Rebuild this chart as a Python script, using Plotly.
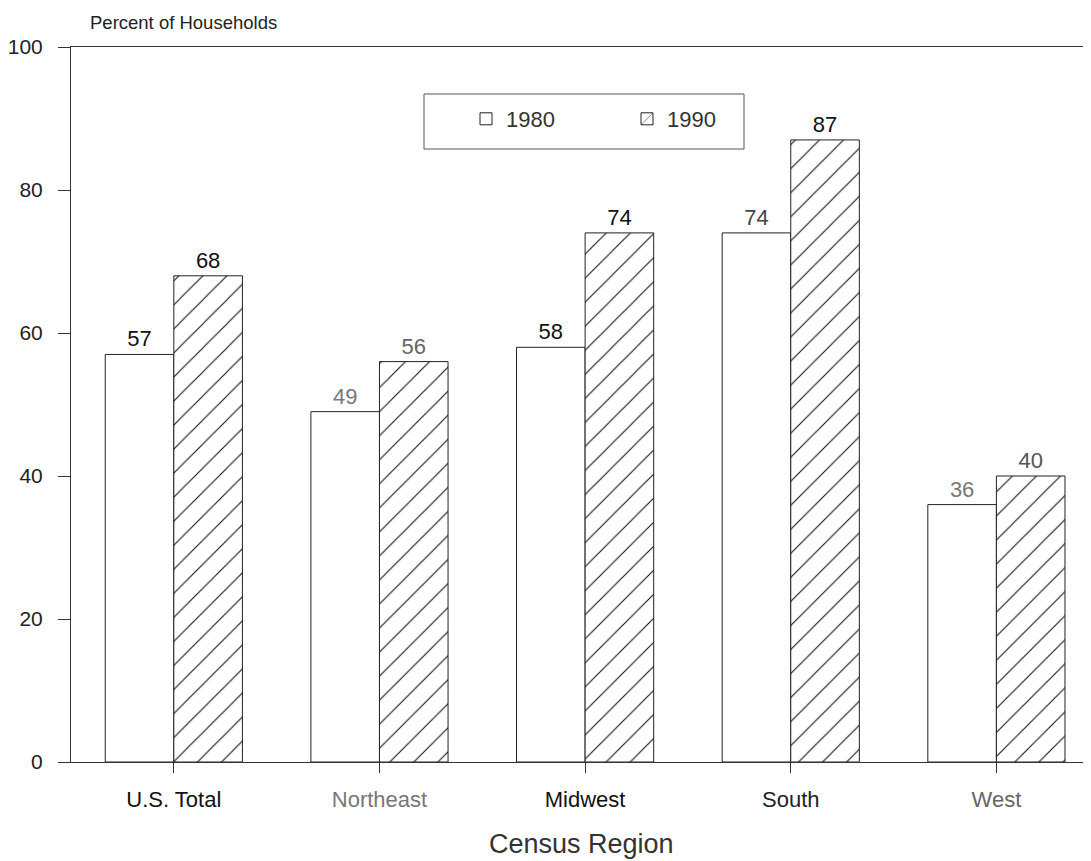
import plotly.graph_objects as go

regions = ["U.S. Total", "Northeast", "Midwest", "South", "West"]
v1980 = [57, 49, 58, 74, 36]
v1990 = [68, 56, 74, 87, 40]
y_ticks = [0, 20, 40, 60, 80, 100]

label_colors_1980 = ["#111", "#777", "#111", "#444", "#777"]
label_colors_1990 = ["#111", "#666", "#111", "#111", "#555"]
tick_colors = ["#111", "#777", "#111", "#222", "#666"]

FONT = "Liberation Sans, Arial, Helvetica, sans-serif"

# page body has an 8px margin; figure sized so the plot fills the window as in the reference
W, H = 1083, 853
L, T = 63, 39
PW, PH = 1020, 715

fig = go.Figure()
fig.add_trace(go.Bar(
    name="1980", x=regions, y=v1980,
    marker=dict(color="white", line=dict(color="#222", width=1)),
    text=[str(v) for v in v1980], textposition="outside",
    textfont=dict(size=22, color=label_colors_1980, family=FONT),
    cliponaxis=False,
))
fig.add_trace(go.Bar(
    name="1990", x=regions, y=v1990,
    marker=dict(color="white", line=dict(color="#222", width=1),
                pattern=dict(shape="/", fgcolor="#111111", bgcolor="white",
                             fgopacity=1, size=17, solidity=0.065)),
    text=[str(v) for v in v1990], textposition="outside",
    textfont=dict(size=22, color=label_colors_1990, family=FONT),
    cliponaxis=False,
))

ticktext = [f"<span style='color:{c}'>{r}</span>" for r, c in zip(regions, tick_colors)]

def px_x(px):
    return (px - 71) / PW

def px_y(py):
    return (762 - py) / PH

fig.update_layout(
    width=W, height=H,
    margin=dict(l=L, r=0, t=T, b=H - T - PH, autoexpand=False),
    paper_bgcolor="white", plot_bgcolor="white",
    font=dict(family=FONT, size=16, color="#222"),
    barmode="group", bargap=0.333, bargroupgap=0,
    showlegend=True,
    legend=dict(orientation="h", x=px_x(466), y=px_y(119), xanchor="left", yanchor="middle",
                borderwidth=0, bgcolor="rgba(0,0,0,0)",
                font=dict(size=22, color="#333"), entrywidth=116,
                traceorder="normal"),
    xaxis=dict(range=[-0.5, 4.46], tickvals=list(range(len(regions))), ticktext=ticktext,
               showline=True, linecolor="#333", linewidth=1, mirror=True,
               ticks="outside", ticklen=10, tickcolor="#333",
               ticklabelstandoff=8, showgrid=False, automargin=False,
               tickfont=dict(size=22)),
    yaxis=dict(range=[0, 100], tickvals=y_ticks, showline=True, linecolor="#333",
               linewidth=1, ticks="outside", ticklen=12, tickcolor="#333",
               showgrid=False, zeroline=False, ticklabelstandoff=11, automargin=False,
               tickfont=dict(size=21, color="#222")),
    shapes=[
        dict(type="rect", xref="paper", yref="paper",
             x0=px_x(424), x1=px_x(744), y0=px_y(149), y1=px_y(94),
             line=dict(color="#555", width=1), fillcolor="rgba(0,0,0,0)", layer="above"),
    ],
    annotations=[
        dict(text="Percent of Households", xref="paper", yref="paper",
             x=px_x(88), y=px_y(23), xanchor="left", yanchor="middle",
             showarrow=False, font=dict(size=18.5, color="#222")),
        dict(text="Census Region", xref="paper", yref="paper",
             x=0.5, y=px_y(844), xanchor="center", yanchor="middle",
             showarrow=False, font=dict(size=27, color="#333")),
    ],
)

fig.write_html("out.html")
